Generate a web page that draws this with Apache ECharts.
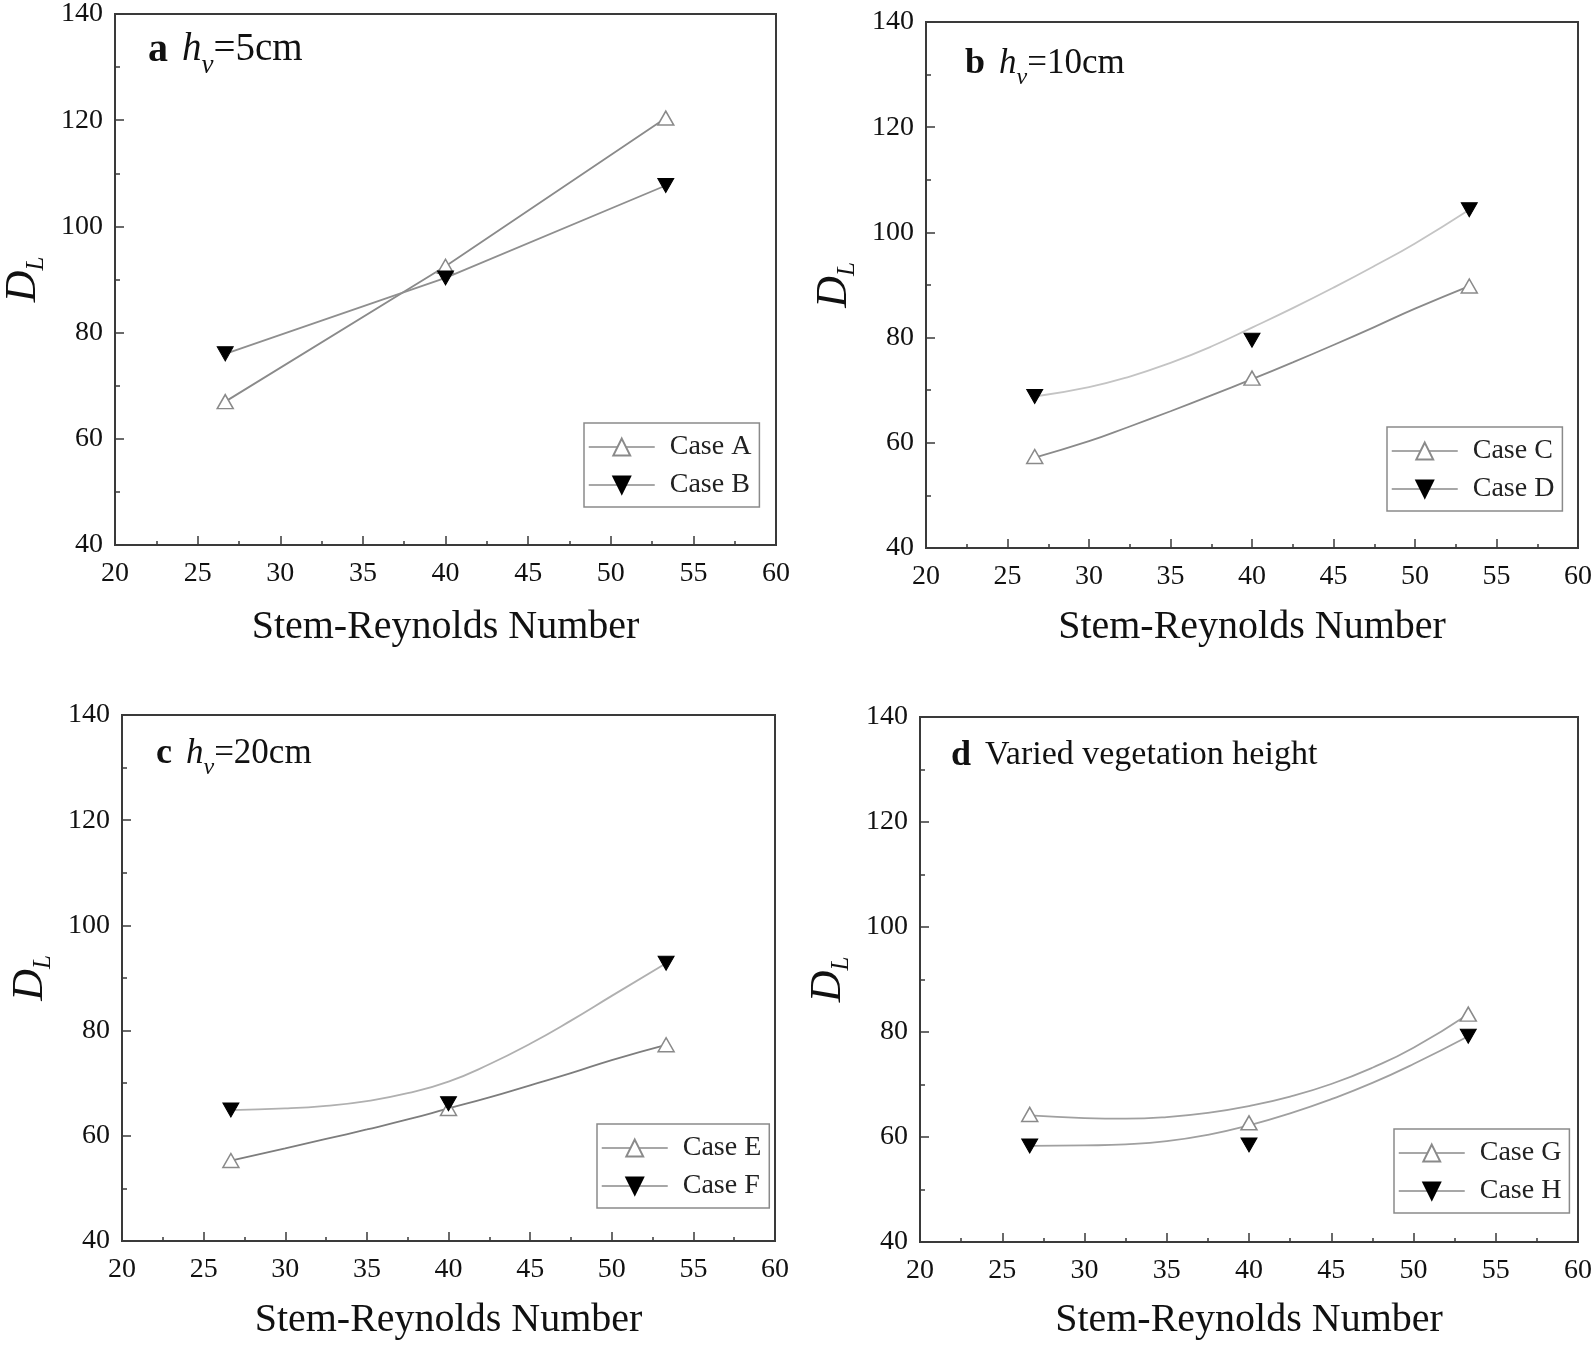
<!DOCTYPE html>
<html><head><meta charset="utf-8">
<script src="https://cdn.jsdelivr.net/npm/echarts@6/dist/echarts.min.js"></script>
<style>html,body{margin:0;padding:0;background:#fff}#c{width:1595px;height:1346px}</style>
</head><body><div id="c"></div>
<script>
// ---------- data ----------
const reynolds = [26.67, 40, 53.33];          // Stem-Reynolds numbers of the measured cases
const caseA = [67.0, 92.5, 120.4];
const caseB = [76.0, 90.3, 107.7];
const caseC = [57.4, 72.3, 89.8];
const caseD = [68.8, 79.5, 104.3];
const caseE = [55.3, 65.2, 77.3];
const caseF = [64.9, 66.1, 92.8];
const caseG = [64.3, 62.7, 83.4];
const caseH = [58.3, 58.5, 79.2];
// fitted curves at these Reynolds numbers
const fitX = [26.67, 30, 32.5, 35, 37.5, 40, 42.5, 45, 47.5, 50, 53.33];
const fitC = [57.2, 60.3, 63.1, 66.0, 69.0, 72.1, 75.3, 78.6, 82.0, 85.5, 89.8];
const fitD = [68.8, 70.6, 72.6, 75.2, 78.3, 81.9, 85.6, 89.5, 93.6, 97.9, 104.3];
const fitE = [55.3, 57.6, 59.4, 61.2, 63.1, 65.2, 67.3, 69.6, 71.9, 74.4, 77.3];
const fitF = [64.9, 65.2, 65.7, 66.6, 68.1, 70.3, 73.6, 77.5, 81.9, 86.6, 92.8];
const fitG = [64.1, 63.6, 63.5, 63.8, 64.6, 65.9, 67.7, 70.1, 73.2, 77.0, 83.4];
const fitH = [58.3, 58.4, 58.6, 59.2, 60.4, 62.2, 64.5, 67.2, 70.3, 73.9, 79.2];
// axis ticks
const xMin = 20, xMax = 60, xStep = 5;
const yMin = 40, yMax = 140, yStep = 20;
const xTitle = 'Stem-Reynolds Number';
const panelLabels = ['a', 'b', 'c', 'd'];
const panelTexts = ['5cm', '10cm', '20cm', 'Varied vegetation height'];
const caseNames = [['Case A', 'Case B'], ['Case C', 'Case D'], ['Case E', 'Case F'], ['Case G', 'Case H']];

// ---------- layout ----------
const serif = "'Liberation Serif','Times New Roman',serif";
const ink = '#111';
const frame = '#3a3a3a';
const zip = (xs, ys) => xs.map((x, i) => [x, ys[i]]);

const panels = [
  { grid: {left: 115, top: 12, width: 661, height: 533}, up: caseA, down: caseB,
    upFit: zip(reynolds, caseA), downFit: zip(reynolds, caseB), smooth: false,
    upColor: '#8a8a8a', downColor: '#8f8f8f', legend: {left: 584, top: 423}, xGap: 62,
    title: {x: 148, y: 53, fs: 39} },
  { grid: {left: 926, top: 22, width: 652, height: 526}, up: caseC, down: caseD,
    upFit: zip(fitX, fitC), downFit: zip(fitX, fitD), smooth: 0.5,
    upColor: '#8a8a8a', downColor: '#c4c4c4', legend: {left: 1387, top: 427}, xGap: 59,
    title: {x: 965, y: 66, fs: 35} },
  { grid: {left: 122, top: 715, width: 653, height: 526}, up: caseE, down: caseF,
    upFit: zip(fitX, fitE), downFit: zip(fitX, fitF), smooth: 0.5,
    upColor: '#7d7d7d', downColor: '#b0b0b0', legend: {left: 597, top: 1124}, xGap: 59,
    title: {x: 156, y: 756, fs: 35} },
  { grid: {left: 920, top: 717, width: 658, height: 525}, up: caseG, down: caseH,
    upFit: zip(fitX, fitG), downFit: zip(fitX, fitH), smooth: 0.5,
    upColor: '#a0a0a0', downColor: '#a0a0a0', legend: {left: 1394, top: 1129}, xGap: 58,
    title: {x: 951, y: 758, fs: 35} }
];

const option = {
  backgroundColor: '#fff',
  animation: false,
  grid: [], xAxis: [], yAxis: [], series: [], legend: [], graphic: []
};

panels.forEach((p, i) => {
  option.grid.push(Object.assign({show: true, borderColor: frame, borderWidth: 2, containLabel: false}, p.grid));
  const tickStyle = {color: frame, width: 1.5};
  option.xAxis.push({
    type: 'value', gridIndex: i, min: xMin, max: xMax, interval: xStep,
    axisLine: {show: true, onZero: false, lineStyle: {color: frame, width: 2}},
    axisTick: {show: true, inside: true, length: 9, lineStyle: tickStyle},
    minorTick: {show: true, splitNumber: 2, length: 4, lineStyle: tickStyle},
    splitLine: {show: false},
    axisLabel: {margin: 15, fontSize: 28, color: ink, fontFamily: serif},
    name: xTitle, nameLocation: 'middle', nameGap: p.xGap,
    nameTextStyle: {fontSize: 40, color: ink, fontFamily: serif}
  });
  option.yAxis.push({
    type: 'value', gridIndex: i, min: yMin, max: yMax, interval: yStep,
    axisLine: {show: true, onZero: false, lineStyle: {color: frame, width: 2}},
    axisTick: {show: true, inside: true, length: 9, lineStyle: tickStyle},
    minorTick: {show: true, splitNumber: 2, length: 5, lineStyle: tickStyle},
    splitLine: {show: false},
    axisLabel: {margin: 12, fontSize: 28, color: ink, fontFamily: serif},
    name: '{d|D}{l|L}', nameLocation: 'middle', nameGap: 68, nameRotate: 90,
    nameTextStyle: {
      color: ink, fontFamily: serif,
      rich: {
        d: {fontSize: 44, fontStyle: 'italic', fontFamily: serif, color: ink, lineHeight: 46, verticalAlign: 'top'},
        l: {fontSize: 25, fontStyle: 'italic', fontFamily: serif, color: ink, lineHeight: 25, verticalAlign: 'top', padding: [23, 0, 0, 0]}
      }
    }
  });
  const [nUp, nDown] = caseNames[i];
  // fitted / connecting lines
  option.series.push({
    type: 'line', xAxisIndex: i, yAxisIndex: i, data: p.upFit, smooth: p.smooth,
    symbol: 'none', silent: true, z: 3, lineStyle: {color: p.upColor, width: 1.8}
  });
  option.series.push({
    type: 'line', xAxisIndex: i, yAxisIndex: i, data: p.downFit, smooth: p.smooth,
    symbol: 'none', silent: true, z: 3, lineStyle: {color: p.downColor, width: 1.8}
  });
  // measured points
  option.series.push({
    type: 'line', name: nUp, xAxisIndex: i, yAxisIndex: i, data: zip(reynolds, p.up),
    symbol: 'triangle', symbolSize: [16, 14], showAllSymbol: true, z: 5,
    itemStyle: {color: '#fff', borderColor: '#8a8a8a', borderWidth: 1.5},
    lineStyle: {opacity: 0, color: '#8a8a8a'}
  });
  option.series.push({
    type: 'line', name: nDown, xAxisIndex: i, yAxisIndex: i, data: zip(reynolds, p.down),
    symbol: 'triangle', symbolRotate: 180, symbolSize: [16, 14], z: 6,
    itemStyle: {color: '#000', borderColor: '#000', borderWidth: 1},
    lineStyle: {opacity: 0, color: '#8a8a8a'}
  });
  option.legend.push({
    data: [nUp, nDown], orient: 'vertical', left: p.legend.left, top: p.legend.top,
    padding: [9, 8, 7, 4], itemGap: 8, itemWidth: 66, itemHeight: 21,
    borderColor: '#8a8a8a', borderWidth: 1.5, selectedMode: false,
    lineStyle: {color: '#8a8a8a', width: 1.5, opacity: 1},
    itemStyle: {opacity: 1},
    textStyle: {fontSize: 28, fontFamily: serif, color: '#222', lineHeight: 30, padding: [0, 0, 0, 10]}
  });
  const fs = p.title.fs;
  const lh = Math.round(fs * 1.15);
  const sub = Math.round(fs * 0.68);
  const rich = {
    b: {fontSize: fs + 1, fontWeight: 'bold', fontFamily: serif, fill: ink, lineHeight: lh, verticalAlign: 'top', padding: [0, 14, 0, 0]},
    h: {fontSize: fs, fontStyle: 'italic', fontFamily: serif, fill: ink, lineHeight: lh, verticalAlign: 'top'},
    s: {fontSize: sub, fontStyle: 'italic', fontFamily: serif, fill: ink, lineHeight: sub, verticalAlign: 'top', padding: [Math.round(fs * 0.57), 0, 0, 0]},
    n: {fontSize: fs, fontFamily: serif, fill: ink, lineHeight: lh, verticalAlign: 'top'},
    t: {fontSize: fs - 1, fontFamily: serif, fill: ink, lineHeight: lh, verticalAlign: 'top'}
  };
  const txt = i < 3
    ? `{b|${panelLabels[i]}}{h|h}{s|v}{n|=${panelTexts[i]}}`
    : `{b|${panelLabels[i]}}{t|${panelTexts[i]}}`;
  option.graphic.push({
    type: 'text', x: p.title.x, y: p.title.y, z: 10,
    style: {text: txt, rich: rich, verticalAlign: 'middle', align: 'left', fill: ink, font: `${fs}px ${serif}`}
  });
});

const chart = echarts.init(document.getElementById('c'), null, {renderer: 'canvas'});
chart.setOption(option);
</script>
</body></html>
